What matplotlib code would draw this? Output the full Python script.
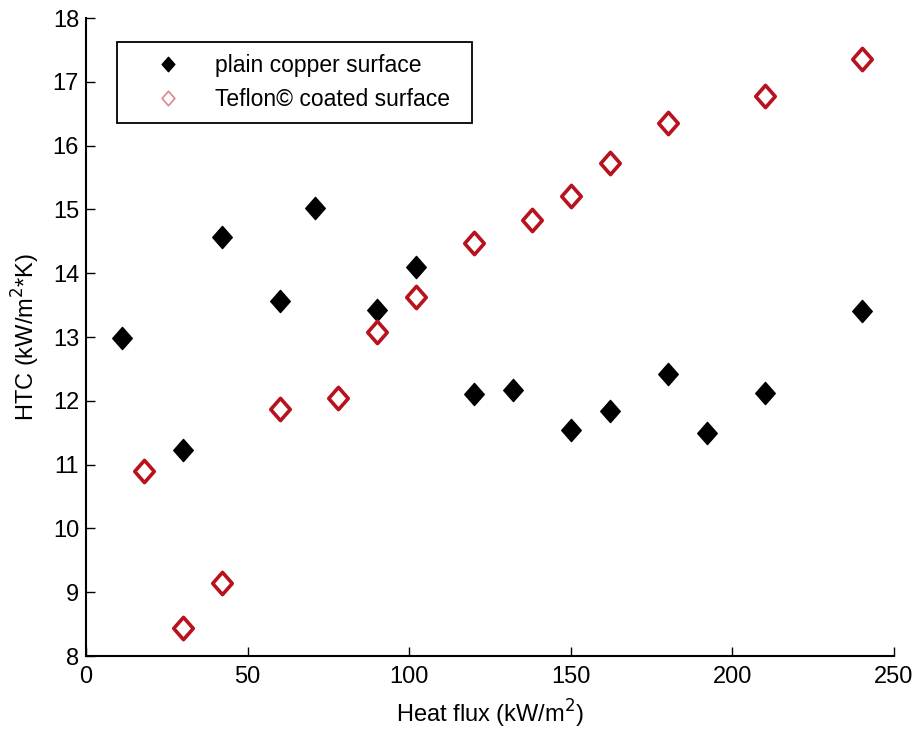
import numpy as np
import matplotlib.pyplot as plt
from matplotlib.path import Path

plt.rcParams['font.family'] = ['Liberation Sans', 'DejaVu Sans']

# heat flux (kW/m2) and heat transfer coefficient (kW/m2*K)
copper_q = [11, 30, 42, 60, 71, 90, 102, 120, 132, 150, 162, 180, 192, 210, 240]
copper_htc = [12.98, 11.23, 14.56, 13.56, 15.02, 13.42, 14.09, 12.11, 12.17,
              11.54, 11.84, 12.42, 11.49, 12.13, 13.41]

teflon_q = [18, 30, 42, 60, 78, 90, 102, 120, 138, 150, 162, 180, 210, 240]
teflon_htc = [10.9, 8.44, 9.14, 11.87, 12.05, 13.08, 13.62, 14.47, 14.84,
              15.21, 15.73, 16.36, 16.77, 17.35]

xticks = [0, 50, 100, 150, 200, 250]
yticks = [8, 9, 10, 11, 12, 13, 14, 15, 16, 17, 18]

# slightly tall diamond
diamond = Path([(0, 1), (0.88, 0), (0, -1), (-0.88, 0), (0, 1)],
               [Path.MOVETO, Path.LINETO, Path.LINETO, Path.LINETO, Path.CLOSEPOLY])

fig = plt.figure(figsize=(9.13, 7.32), dpi=100)
ax = fig.add_axes([0.0942, 0.1038, 0.8850, 0.8716])

ax.plot(copper_q, copper_htc, linestyle='none', marker=diamond, markersize=16,
        color='black', label='plain copper surface')
ax.plot(teflon_q, teflon_htc, linestyle='none', marker=diamond, markersize=16,
        markerfacecolor='white', markeredgecolor='#b8121e', markeredgewidth=2.6,
        label='Teflon\u00a9 coated surface')

ax.set_xlim(0, 250)
ax.set_ylim(8, 18)
ax.set_xticks(xticks)
ax.set_yticks(yticks)
ax.tick_params(direction='in', length=6.5, width=1.0, labelsize=17)
ax.tick_params(axis='y', pad=5)
ax.tick_params(axis='x', pad=7)
ax.spines['top'].set_visible(False)
ax.spines['right'].set_visible(False)
for s in ('left', 'bottom'):
    ax.spines[s].set_linewidth(1.5)

ax.set_xlabel('Heat flux (kW/m$^2$)', fontsize=17, labelpad=7)
ax.set_ylabel('HTC (kW/m$^2$*K)', fontsize=17, labelpad=8)

leg = ax.legend(loc='upper left', bbox_to_anchor=(0.0384, 0.843, 0.439, 0.119),
                mode='expand', borderaxespad=0,
                fontsize=16.5, markerscale=0.65, fancybox=False, edgecolor='black',
                framealpha=1, handlelength=3.45, handletextpad=0.33,
                borderpad=0.5, labelspacing=0.5)
leg.get_frame().set_linewidth(1.3)
# the hollow legend symbol is drawn lighter and thinner
teflon_handle = leg.legend_handles[1]
teflon_handle.set_markeredgecolor('#dc8690')
teflon_handle.set_markeredgewidth(1.2)

fig.savefig('out.png', dpi=100)
